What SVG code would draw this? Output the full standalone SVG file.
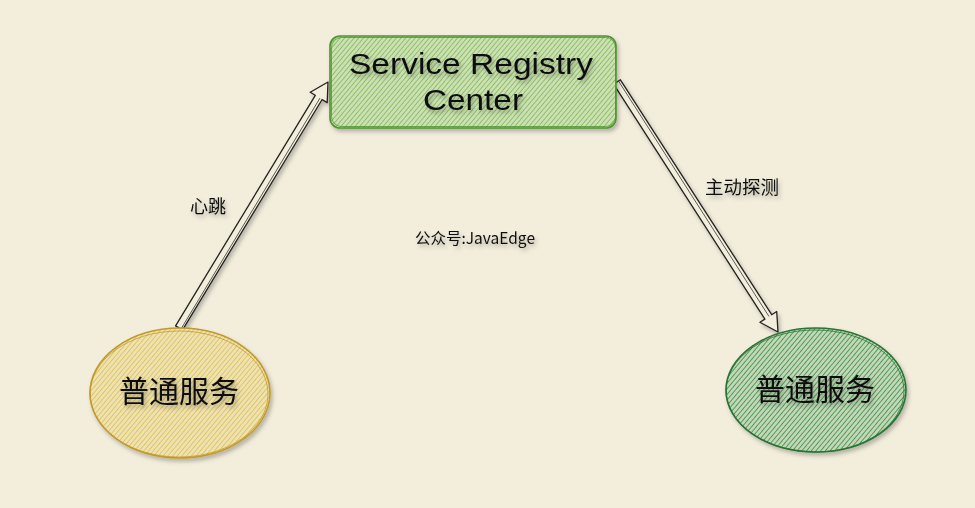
<svg xmlns="http://www.w3.org/2000/svg" width="975" height="508" viewBox="0 0 975 508">
  <defs>
    <pattern id="hGreenLight" patternUnits="userSpaceOnUse" width="3.6" height="4" patternTransform="rotate(40)">
      <rect width="4" height="4" fill="#cde0b4"/>
      <line x1="0" y1="0" x2="0" y2="4" stroke="#84bc5e" stroke-width="1.7"/>
    </pattern>
    <pattern id="hYellow" patternUnits="userSpaceOnUse" width="3.6" height="4" patternTransform="rotate(40)">
      <rect width="4" height="4" fill="#eee2b3"/>
      <line x1="0" y1="0" x2="0" y2="4" stroke="#dcc25a" stroke-width="1.7"/>
    </pattern>
    <pattern id="hGreenDark" patternUnits="userSpaceOnUse" width="3.6" height="4" patternTransform="rotate(40)">
      <rect width="4" height="4" fill="#c3d6b6"/>
      <line x1="0" y1="0" x2="0" y2="4" stroke="#3f9450" stroke-width="1.7"/>
    </pattern>
    <filter id="shadow" x="-20%" y="-20%" width="140%" height="150%">
      <feDropShadow dx="2" dy="3" stdDeviation="2" flood-color="#000" flood-opacity="0.25"/>
    </filter>
    <filter id="tshadow" x="-20%" y="-40%" width="140%" height="190%">
      <feDropShadow dx="2" dy="3" stdDeviation="2" flood-color="#000" flood-opacity="0.3"/>
    </filter>
  </defs>
  <style>
    .cjk { font-family: "Noto Sans CJK SC", "Noto Sans", sans-serif; fill: #111; }
    .hand { font-family: "Liberation Sans", "Noto Sans", sans-serif; fill: #111; }
    .arrow { fill: #f3eedc; stroke: #222; stroke-width: 1.3; stroke-linejoin: round; }
    .arrow2 { fill: none; stroke: #333; stroke-width: 0.8; }
  </style>
  <rect width="975" height="508" fill="#f3eedc"/>

  <g id="connectors">
    <g id="edge-heartbeat" filter="url(#shadow)">
      <polygon class="arrow" points="175.6,325.9 315.3,95.3 310.2,92.2 328,82 327.2,102.6 322.1,99.5 182.4,330.1"/>
      <line class="arrow2" x1="181" y1="329" x2="320" y2="98"/>
    </g>
    <g id="edge-probe" filter="url(#shadow)">
      <polygon class="arrow" points="620.4,79.8 771.7,314.7 776.7,311.5 778,332 759.9,322.3 764.9,319.1 613.6,84.2"/>
      <line class="arrow2" x1="618.5" y1="81" x2="769" y2="316.5"/>
    </g>
    <text class="cjk" x="208" y="213" font-size="18" text-anchor="middle" filter="url(#tshadow)">心跳</text>
    <text class="cjk" x="742" y="194" font-size="18.5" text-anchor="middle" filter="url(#tshadow)">主动探测</text>
  </g>

  <g id="registry">
    <rect x="330" y="36" width="286" height="92" rx="10" fill="url(#hGreenLight)" stroke="#4f9432" stroke-width="1.6" filter="url(#shadow)"/>
    <rect x="331.5" y="37.5" width="284" height="89" rx="10" fill="none" stroke="#4f9432" stroke-width="0.8"/>
    <text class="hand" x="471" y="74" font-size="29" text-anchor="middle" textLength="244" lengthAdjust="spacingAndGlyphs" filter="url(#tshadow)">Service Registry</text>
    <text class="hand" x="473" y="110" font-size="29" text-anchor="middle" textLength="100" lengthAdjust="spacingAndGlyphs" filter="url(#tshadow)">Center</text>
  </g>

  <g id="service-left">
    <ellipse cx="180" cy="393" rx="90" ry="65" fill="url(#hYellow)" stroke="#c09a2e" stroke-width="1.6" filter="url(#shadow)"/>
    <ellipse cx="179" cy="394" rx="89" ry="63" fill="none" stroke="#c09a2e" stroke-width="0.8"/>
    <text class="cjk" x="179" y="402" font-size="30" text-anchor="middle" filter="url(#tshadow)">普通服务</text>
  </g>

  <g id="service-right">
    <ellipse cx="816" cy="390" rx="90" ry="62" fill="url(#hGreenDark)" stroke="#2a7434" stroke-width="1.6" filter="url(#shadow)"/>
    <ellipse cx="815" cy="391" rx="89" ry="61" fill="none" stroke="#2a7434" stroke-width="0.8"/>
    <text class="cjk" x="815" y="400" font-size="30" text-anchor="middle" filter="url(#tshadow)">普通服务</text>
  </g>

  <g id="watermark">
    <text class="cjk" x="475" y="244" font-size="15.5" text-anchor="middle" filter="url(#tshadow)">公众号:JavaEdge</text>
  </g>
</svg>
